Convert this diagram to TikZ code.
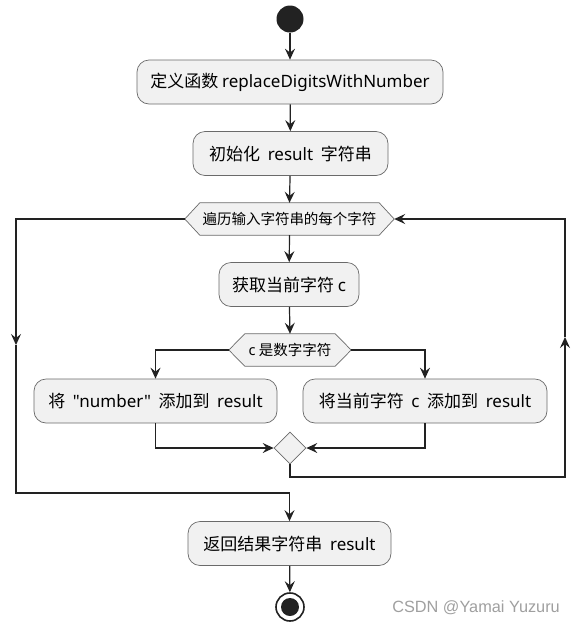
\documentclass[tikz,border=0pt]{standalone}
\usepackage{fontspec}
\setmainfont{Noto Sans CJK SC}
\newfontfamily\latn{Noto Sans}
\newfontfamily\wmfont{Liberation Sans}
\usetikzlibrary{arrows.meta,shapes.geometric}
\definecolor{boxfill}{HTML}{F1F1F1}
\definecolor{boxline}{HTML}{6A6A6A}
\definecolor{lineclr}{HTML}{222222}
\pgfdeclarelayer{background}
\pgfsetlayers{background,main}
\newcommand{\lw}[1]{{\latn #1}}
\begin{document}
\begin{tikzpicture}[x=1pt,y=-1pt,
  box/.style={draw=boxline,fill=boxfill,line width=0.7pt,rounded corners=12pt,
    inner sep=0pt,minimum height=44pt,font=\fontsize{17pt}{20pt}\selectfont},
  hextext/.style={inner sep=0pt,minimum height=32pt,font=\fontsize{14.5pt}{17pt}\selectfont},
  hexshape/.style={draw=boxline,fill=boxfill,line width=0.7pt},
  conn/.style={draw=lineclr,line width=1.2pt},
  arr/.style={conn,-{Stealth[length=11pt,width=10pt,inset=4pt]}},
]
\useasboundingbox (0,0) rectangle (576,625);

% start
\node[circle,fill=lineclr,minimum size=27pt,inner sep=0pt] (st) at (290,19) {};

% boxes
\node[box,minimum width=306pt] (b1) at (290,82) {定义函数 \lw{replaceDigitsWithNumber}};
\node[box,minimum width=195pt] (b2) at (290.5,153.5) {初始化\ \ \lw{result}\ \ 字符串};
\node[hextext,minimum width=179pt] (h1) at (289.5,219) {遍历输入字符串的每个字符};
\coordinate (h1L) at ([xshift=-15pt]h1.west);
\coordinate (h1R) at ([xshift=15pt]h1.east);
\node[box,minimum width=140pt] (b3) at (289,284.5) {获取当前字符 \lw{c}};
\node[hextext,minimum width=90pt] (h2) at (290,350) {\lw{c} 是数字字符};
\coordinate (h2L) at ([xshift=-16pt]h2.west);
\coordinate (h2R) at ([xshift=16pt]h2.east);
\node[box,minimum width=243pt] (b4) at (155.5,401) {将\ \ \lw{"number"}\ \ 添加到\ \ \lw{result}};
\node[box,minimum width=244pt] (b5) at (425,401) {将当前字符\ \ \lw{c}\ \ 添加到\ \ \lw{result}};
\node[diamond,draw=boxline,fill=boxfill,line width=0.7pt,inner sep=0pt,
  minimum width=32pt,minimum height=32pt] (m) at (290,448) {};
\node[box,minimum width=203pt] (b6) at (289.5,543.5) {返回结果字符串\ \ \lw{result}};

% end
\node[circle,draw=lineclr,line width=1.6pt,minimum size=28pt,inner sep=0pt] (en) at (290,607) {};
\fill[lineclr] (en.center) circle (9pt);

% hexagon outlines
\begin{pgfonlayer}{background}
\path[hexshape] (h1.north west) -- (h1.north east) -- (h1R) -- (h1.south east)
  -- (h1.south west) -- (h1L) -- cycle;
\path[hexshape] (h2.north west) -- (h2.north east) -- (h2R) -- (h2.south east)
  -- (h2.south west) -- (h2L) -- cycle;
\end{pgfonlayer}

% loop coordinates
\coordinate (rb) at (565,477);
\coordinate (rm) at (565,337);
\coordinate (rt) at (565,219);
\coordinate (lt) at (16,219);
\coordinate (lm) at (16,345);
\coordinate (lb) at (16,493);

% connectors
\draw[arr] (st) -- (b1);
\draw[arr] (b1) -- (b2);
\draw[arr] (b2) -- (h1.north);
\draw[arr] (h1.south) -- (b3);
\draw[arr] (b3) -- (h2.north);
\draw[arr] (h2L) -| (b4.north);
\draw[arr] (h2R) -| (b5.north);
\draw[arr] (b4.south) |- (m.west);
\draw[arr] (b5.south) |- (m.east);
\draw[arr] (m.south) |- (rb) -- (rm);
\draw[arr] (rm) -- (rt) -- (h1R);
\draw[arr] (h1L) -- (lt) -- (lm);
\draw[arr] (lm) -- (lb) -| (b6.north);
\draw[arr] (b6) -- (en);

% watermark
\node[anchor=east,text=gray!75,font=\wmfont\fontsize{16.3pt}{19pt}\selectfont,inner sep=0pt] (wm) at (560,608) {CSDN @Yamai Yuzuru};
\end{tikzpicture}
\end{document}
